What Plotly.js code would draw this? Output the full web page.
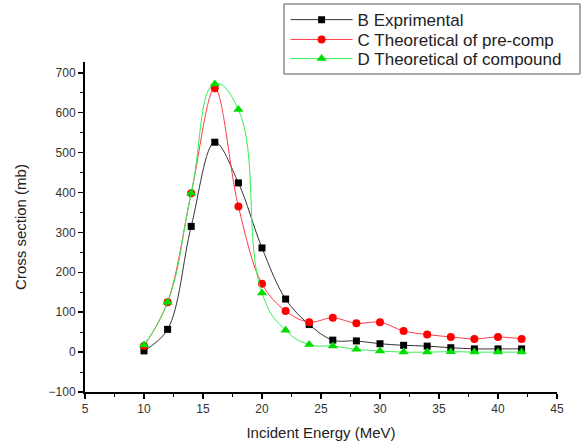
<!DOCTYPE html>
<html>
<head>
<meta charset="utf-8">
<script src="https://cdn.plot.ly/plotly-3.0.1.min.js"></script>
<style>html,body{margin:0;padding:0;background:#fff;}#chart{width:583px;height:446px;}</style>
</head>
<body>
<div id="chart"></div>
<script>
const energy = [10, 12, 14, 16, 18, 20, 22, 24, 26, 28, 30, 32, 34, 36, 38, 40, 42];
const expB   = [3, 57, 315, 526, 424, 261, 133, 69, 30, 28, 21, 17, 15, 11, 8, 8, 8];
const preC   = [15, 125, 398, 661, 365, 171, 103, 75, 86, 72, 75, 53, 44, 38, 33, 38, 33];
const compD  = [18, 125, 398, 672, 608, 148, 55, 19, 15, 7, 3, 0, 0, 1, 0, 0, 0];
const names  = ["B Exprimental", "C Theoretical of pre-comp", "D Theoretical of compound"];

const fontFam = "Liberation Sans, Arial, sans-serif";
const traces = [
  {x: energy, y: expB, name: names[0], mode: "lines+markers", legend: "legend",
   line: {color: "#333333", width: 1, shape: "spline", smoothing: 1},
   marker: {symbol: "square", size: 7, color: "#000000"}},
  {x: energy, y: preC, name: names[1], mode: "lines+markers", legend: "legend2",
   line: {color: "#ff3b4a", width: 1, shape: "spline", smoothing: 1},
   marker: {symbol: "circle", size: 8, color: "#ff0000"}},
  {x: energy, y: compD, name: names[2], mode: "lines+markers", legend: "legend3",
   line: {color: "#33ee55", width: 1, shape: "spline", smoothing: 1.3},
   marker: {symbol: "triangle-up", size: 9, color: "#00dd00"}}
];

function leg(yv) {
  return {x: 0.425, y: yv, xanchor: "left", yanchor: "middle",
          itemwidth: 62, borderwidth: 0, bgcolor: "rgba(0,0,0,0)",
          font: {family: fontFam, size: 17, color: "#222222"}};
}

const layout = {
  width: 583, height: 446,
  margin: {l: 85, r: 26, t: 62, b: 54, autoexpand: false},
  paper_bgcolor: "#ffffff", plot_bgcolor: "#ffffff",
  font: {family: fontFam, color: "#333333", size: 12},
  showlegend: true,
  legend: leg(1.127),
  legend2: leg(1.067),
  legend3: leg(1.009),
  shapes: [{type: "rect", xref: "paper", yref: "paper",
            x0: 0.4216, x1: 1.0487, y0: 0.9636, y1: 1.1758,
            line: {color: "#555555", width: 1}, fillcolor: "#ffffff", layer: "above"}],
  xaxis: {range: [5, 45], dtick: 5, tick0: 5, showgrid: false, zeroline: false,
          showline: true, linecolor: "#000000", linewidth: 2,
          ticks: "outside", ticklen: 5, tickwidth: 1.5, tickcolor: "#000",
          minor: {dtick: 2.5, ticks: "outside", ticklen: 3, tickwidth: 1, tickcolor: "#000"},
          tickfont: {size: 12, color: "#333"},
          title: {text: "Incident Energy (MeV)", font: {size: 15, color: "#222"}, standoff: 12}},
  yaxis: {range: [-100, 727], dtick: 100, tick0: 0, showgrid: false, zeroline: false,
          showline: true, linecolor: "#000000", linewidth: 2,
          ticks: "outside", ticklen: 5, tickwidth: 1.5, tickcolor: "#000",
          minor: {dtick: 50, ticks: "outside", ticklen: 3, tickwidth: 1, tickcolor: "#000"},
          tickfont: {size: 12, color: "#333"},
          title: {text: "Cross section (mb)", font: {size: 15, color: "#222"}, standoff: 18}}
};

Plotly.newPlot("chart", traces, layout, {displayModeBar: false, staticPlot: true});
</script>
</body>
</html>
